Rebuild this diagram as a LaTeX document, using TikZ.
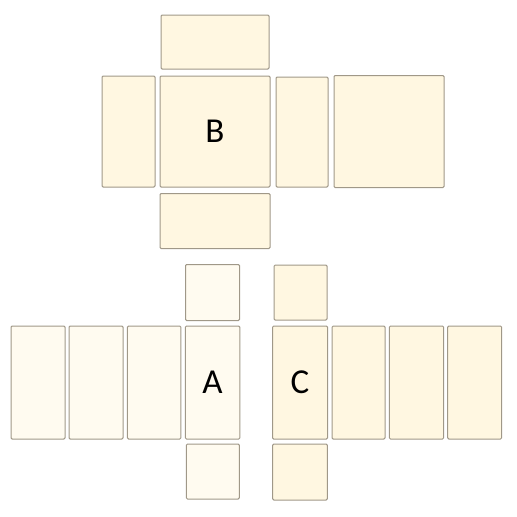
\documentclass[tikz,border=0pt]{standalone}
\usepackage{fontspec}
\setmainfont{Carlito}
\usepackage{tikz}
\usetikzlibrary{positioning}

\definecolor{netwarm}{RGB}{255,247,225}
\definecolor{netpale}{RGB}{255,251,240}
\definecolor{netedge}{RGB}{160,152,136}

\tikzset{
    face/.style={draw=netedge, line width=1pt, fill=netwarm, rounded corners=1.2pt,
        inner sep=0pt, font=\fontsize{35}{40}\selectfont},
    paleface/.style={face, fill=netpale}
}

\begin{document}
\begin{tikzpicture}[x=1pt,y=-1pt]
            \useasboundingbox (0,0) rectangle (517,517);

            % upper net (B)
            \node[face, minimum width=108pt, minimum height=54pt] (btop) at (215,42) {};
            \node[face, minimum width=53pt, minimum height=111pt] (bleft) at (128.5,131.5) {};
            \node[face, minimum width=110pt, minimum height=111pt] (b) at (215,131.5) {B};
            \node[face, minimum width=52pt, minimum height=110pt] (bright) at (302,132) {};
            \node[face, minimum width=110pt, minimum height=112pt] (bback) at (389,131.5) {};
            \node[face, minimum width=110pt, minimum height=55pt] (bbottom) at (215,221) {};

            % lower left net (A)
            \node[paleface, minimum width=54pt, minimum height=56pt] (atop) at (212.5,292.5) {};
            \node[paleface, minimum width=54pt, minimum height=113pt] (aone) at (38,382.5) {};
            \node[paleface, minimum width=54pt, minimum height=113pt] (atwo) at (96,382.5) {};
            \node[paleface, minimum width=53.5pt, minimum height=113pt] (athree) at (154.2,382.5) {};
            \node[paleface, minimum width=54.6pt, minimum height=113pt] (a) at (212.6,382.5) {A};
            \node[paleface, minimum width=53pt, minimum height=55pt] (abottom) at (212.8,471.5) {};

            % lower right net (C)
            \node[face, minimum width=53pt, minimum height=55pt] (ctop) at (300.5,292.5) {};
            \node[face, minimum width=55pt, minimum height=113pt] (c) at (300,382.5) {C};
            \node[face, minimum width=53pt, minimum height=113pt] (cone) at (358.5,382.5) {};
            \node[face, minimum width=54.4pt, minimum height=113pt] (ctwo) at (416.5,382.5) {};
            \node[face, minimum width=54pt, minimum height=113pt] (cthree) at (474.7,382.5) {};
            \node[face, minimum width=54.6pt, minimum height=56pt] (cbottom) at (300,472) {};
        \end{tikzpicture}
\end{document}
